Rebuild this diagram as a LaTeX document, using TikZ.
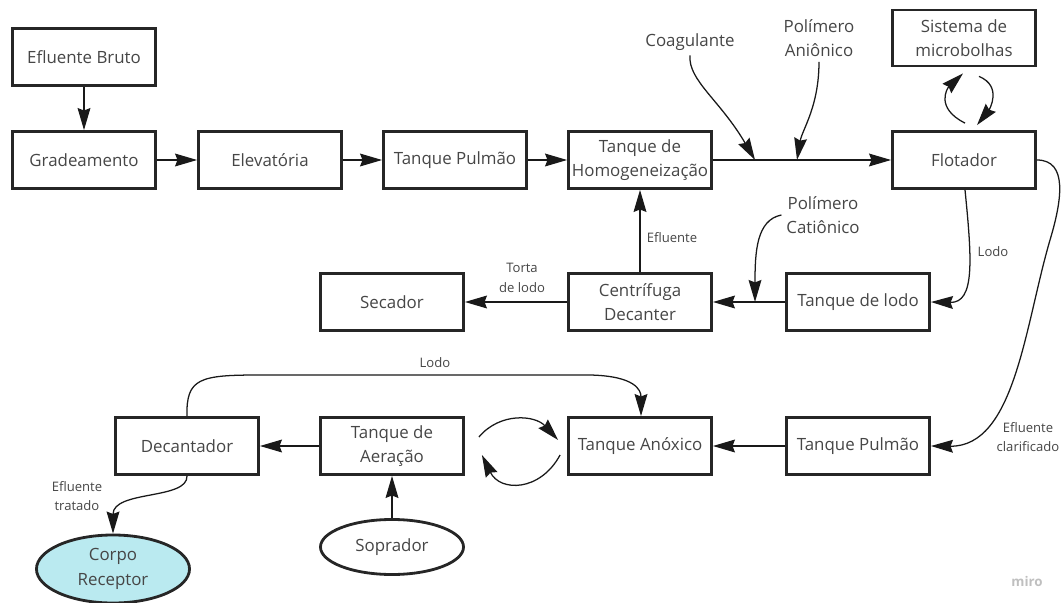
\documentclass[tikz,border=0pt]{standalone}
\usepackage{fontspec}
\setmainfont{Open Sans}
\usetikzlibrary{arrows.meta,shapes.geometric}
\definecolor{txtgray}{RGB}{70,70,70}
\definecolor{corpo}{RGB}{186,234,240}

\begin{document}
\begin{tikzpicture}[x=0.025cm,y=-0.025cm,
   bloco/.style={draw=black!85,line width=2pt,minimum width=3.575cm,minimum height=1.425cm,
     align=center,text=txtgray,inner sep=1pt,font=\fontsize{12}{17.5}\selectfont},
   oval/.style={bloco,ellipse,minimum height=1.375cm},
   quim/.style={align=center,text=txtgray,font=\fontsize{12}{17.5}\selectfont},
   rotulo/.style={align=center,text=txtgray,font=\fontsize{9.3}{14}\selectfont},
   seta/.style={-{Stealth[length=0.55cm,width=0.32cm,inset=0.06cm]},line width=0.9pt,black!90}]
   \useasboundingbox (0,0) rectangle (1064,603);
   \node[bloco] (bruto) at (84,57) {Efluente Bruto};
   \node[bloco] (grade) at (84,160) {Gradeamento};
   \node[bloco] (elev) at (270,160) {Elevatória};
   \node[bloco] (pulmaoA) at (455,160) {Tanque Pulmão};
   \node[bloco] (homog) at (640,160) {Tanque de\\Homogeneização};
   \node[bloco] (flot) at (964,160) {Flotador};
   \node[bloco,minimum height=1.4cm] (micro) at (964,38) {Sistema de\\microbolhas};
   \node[bloco] (secador) at (392,302) {Secador};
   \node[bloco] (centri) at (640,302) {Centrífuga\\Decanter};
   \node[bloco] (lodoT) at (858,302) {Tanque de lodo};
   \node[bloco] (pulmaoB) at (858,446) {Tanque Pulmão};
   \node[bloco] (anox) at (640,446) {Tanque Anóxico};
   \node[bloco] (aera) at (392,446) {Tanque de\\Aeração};
   \node[bloco] (decant) at (187,446) {Decantador};
   \node[oval] (soprador) at (392,547) {Soprador};
   \node[oval,fill=corpo,minimum width=3.825cm,minimum height=1.7cm] (receptor) at (113,569) {Corpo\\Receptor};
   \node[quim] (coag) at (690,42) {Coagulante};
   \node[quim] (anion) at (819,38) {Polímero\\Aniônico};
   \node[quim] (cation) at (823,215) {Polímero\\Catiônico};
   \node[rotulo] (lbEfl) at (672,238) {Efluente};
   \node[rotulo] (lbTorta) at (522,278) {Torta\\de lodo};
   \node[rotulo] (lbLodoA) at (993,252) {Lodo};
   \node[rotulo] (lbLodoB) at (435,363) {Lodo};
   \node[rotulo] (lbClar) at (1028,437) {Efluente\\clarificado};
   \node[rotulo] (lbTrat) at (77,496) {Efluente\\tratado};
   \node[text=black!25,font=\bfseries\fontsize{9.5}{10}\selectfont] (miro) at (1027,581) {miro};
   \coordinate (jC) at (755,160);
   \coordinate (jA) at (797,160);
   \coordinate (jP) at (755,302);
   \foreach \a/\b in {bruto.south/grade.north,grade.east/elev.west,elev.east/pulmaoA.west,
     pulmaoA.east/homog.west,homog.east/flot.west,centri.north/homog.south,
     lodoT.west/centri.east,centri.west/secador.east,pulmaoB.west/anox.east,
     aera.west/decant.east,soprador.north/aera.south} {
    \draw[seta] (\a) -- (\b);
   }
   \draw[seta] (coag.south) .. controls +(-2,25) and +(-35,-60) .. (jC);
   \draw[seta] (anion.south) .. controls +(0,45) and +(5,-30) .. (jA);
   \draw[seta] (cation.west) .. controls +(-25,5) and +(0,-50) .. (jP);
   \draw[seta] ([shift={(1,-7)}]flot.north) .. controls +(-30,-15) and +(-16,15) .. ([shift={(-1,6)}]micro.south);
   \draw[seta] ([shift={(15,9)}]micro.south) .. controls +(24,10) and +(12,-15) .. ([shift={(13,-5)}]flot.north);
   \draw[seta] ([xshift=0.025cm]flot.south) .. controls (972,260) and (975,303) .. (lodoT.east);
   \draw[seta] (flot.east) .. controls (1068,160) and (1062,200) .. (1050,240)
     .. controls (1025,325) and (1015,447) .. (pulmaoB.east);
   \draw[seta] ([shift={(14,-9)}]aera.east) .. controls (500,412) and (535,415) .. ([shift={(-9,-6)}]anox.west);
   \draw[seta] ([shift={(-7,9)}]anox.west) .. controls (540,492) and (500,492) .. ([shift={(17,9)}]aera.east);
   \draw[seta] (decant.north) .. controls (186,378) and (200,375) .. (260,375) -- (590,375)
     .. controls (635,376) and (641,390) .. ([xshift=0.025cm]anox.north);
   \draw[seta] (decant.south) .. controls (188,500) and (113,490) .. (receptor.north);
  \end{tikzpicture}
\end{document}
